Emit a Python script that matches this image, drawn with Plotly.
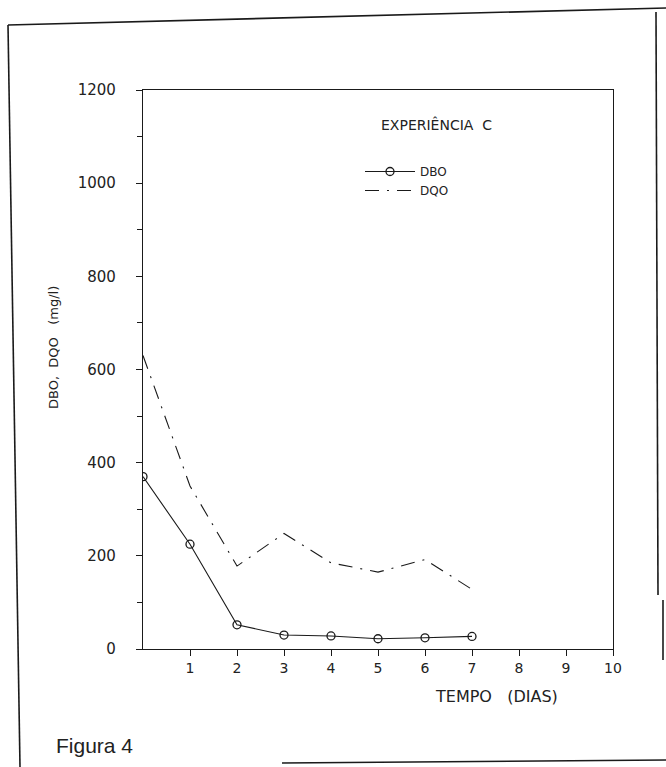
import plotly.graph_objects as go

# ---- data ----
dias = [0, 1, 2, 3, 4, 5, 6, 7]
dbo = [370, 225, 52, 30, 28, 22, 24, 27]
dqo = [630, 350, 178, 248, 185, 165, 192, 128]
x_ticks = [1, 2, 3, 4, 5, 6, 7, 8, 9, 10]
y_ticks = [0, 200, 400, 600, 800, 1000, 1200]
y_minor = [100, 300, 500, 700, 900, 1100]

W, H = 666, 767
L, R, T, B = 143, 53, 90, 118
pw, ph = W - L - R, H - T - B

def px(x):  # pixel -> paper
    return (x - L) / pw

def py(y):
    return (H - B - y) / ph

FONT = "DejaVu Sans"
INK = "#1a1a1a"
TXT = "#222222"

fig = go.Figure()
fig.add_trace(go.Scatter(
    x=dias, y=dbo, name="DBO", mode="lines+markers",
    line=dict(color=INK, width=1.1),
    marker=dict(symbol="circle-open", size=8, color=INK, line=dict(width=1.3)),
))
fig.add_trace(go.Scatter(
    x=dias, y=dqo, name="DQO", mode="lines",
    line=dict(color=INK, width=1.1, dash="14px,8px,2px,8px"),
))

fig.update_layout(
    width=W, height=H,
    margin=dict(l=L, r=R, t=T, b=B),
    paper_bgcolor="white", plot_bgcolor="white",
    font=dict(family=FONT, size=12, color=TXT),
    showlegend=True,
    legend=dict(
        x=px(360), y=py(157), xanchor="left", yanchor="top",
        bgcolor="rgba(0,0,0,0)", font=dict(size=12, family=FONT, color=TXT),
        tracegroupgap=0, itemwidth=50,
    ),
    xaxis=dict(
        range=[0, 10], tickvals=x_ticks, ticktext=[str(v) for v in x_ticks],
        showgrid=False, zeroline=False, showline=True, linecolor=INK, linewidth=1.2,
        mirror=True, ticks="outside", ticklen=6, tickcolor=INK,
        tickfont=dict(size=14, family=FONT, color=TXT),
    ),
    yaxis=dict(
        range=[0, 1200], tickvals=y_ticks, ticktext=[str(v) for v in y_ticks],
        showgrid=False, zeroline=False, showline=True, linecolor=INK, linewidth=1.2,
        mirror=True, ticks="outside", ticklen=6, tickcolor=INK,
        tickfont=dict(size=15, family=FONT, color=TXT),
        minor=dict(tickvals=y_minor, ticks="outside", ticklen=5, tickcolor=INK),
        ticklabelstandoff=17,
    ),
)

annotations = [
    dict(text="EXPERIÊNCIA  C", x=px(379), y=py(125), xanchor="left", yanchor="middle",
         showarrow=False, font=dict(size=14, family=FONT, color=TXT)),
    dict(text="DBO,  DQO   (mg/l)", x=px(53), y=py(348), textangle=-90,
         xanchor="center", yanchor="middle", showarrow=False,
         font=dict(size=13, family=FONT, color=TXT)),
    dict(text="TEMPO   (DIAS)", x=px(496), y=py(697), xanchor="center", yanchor="middle",
         showarrow=False, font=dict(size=16, family=FONT, color=TXT)),
    dict(text="Figura 4", x=px(54), y=py(745), xanchor="left", yanchor="middle",
         showarrow=False, font=dict(size=21, family="Liberation Sans", color=TXT)),
]
for a in annotations:
    a["xref"] = "paper"
    a["yref"] = "paper"
fig.update_layout(annotations=annotations)

# outer figure frame (scanned border)
frame = [
    (8, 25, 666, 8),
    (8, 25, 20, 767),
    (656, 12, 658, 595),
    (663, 600, 663, 660),
    (282, 763, 666, 760),
]
shapes = []
for x0, y0, x1, y1 in frame:
    shapes.append(dict(type="line", xref="paper", yref="paper",
                       x0=px(x0), y0=py(y0), x1=px(x1), y1=py(y1),
                       line=dict(color=INK, width=1.6)))
fig.update_layout(shapes=shapes)

fig.write_html("out.html")
